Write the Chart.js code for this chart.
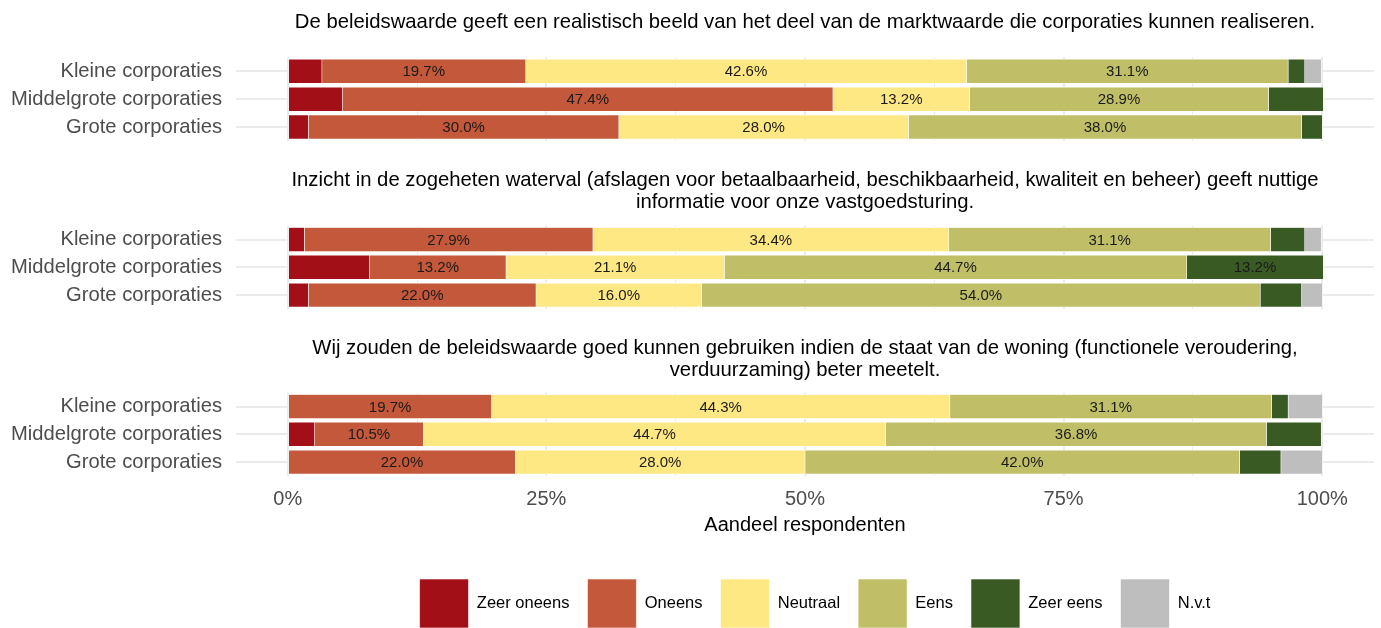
<!DOCTYPE html>
<html><head><meta charset="utf-8">
<script src="https://cdn.jsdelivr.net/npm/chart.js@4.4.1/dist/chart.umd.min.js"></script>
<style>
html,body{margin:0;padding:0;background:#fff;overflow:hidden;width:1381px;height:628px;position:relative;}
.p{position:absolute;left:0;width:1610px;}
</style></head><body>
<div class="p" style="top:0;height:141px"><canvas id="c1"></canvas></div>
<div class="p" style="top:141px;height:168px"><canvas id="c2"></canvas></div>
<div class="p" style="top:309px;height:329px"><canvas id="c3"></canvas></div>
<script>
// ---- data ----
const categories = ['Kleine corporaties', 'Middelgrote corporaties', 'Grote corporaties'];
const responses = ['Zeer oneens', 'Oneens', 'Neutraal', 'Eens', 'Zeer eens', 'N.v.t'];
const xTickValues = [0, 12.5, 25, 37.5, 50, 62.5, 75, 87.5, 100];
const axisTitle = 'Aandeel respondenten';

const title1 = 'De beleidswaarde geeft een realistisch beeld van het deel van de marktwaarde die corporaties kunnen realiseren.';
const title2 = ['Inzicht in de zogeheten waterval (afslagen voor betaalbaarheid, beschikbaarheid, kwaliteit en beheer) geeft nuttige', 'informatie voor onze vastgoedsturing.'];
const title3 = ['Wij zouden de beleidswaarde goed kunnen gebruiken indien de staat van de woning (functionele veroudering,', 'verduurzaming) beter meetelt.'];

// values per response, order: Kleine, Middelgrote, Grote (percent)
const zeerOneens1 = [3.3, 5.3, 2.0];
const oneens1     = [19.7, 47.4, 30.0];
const neutraal1   = [42.6, 13.2, 28.0];
const eens1       = [31.1, 28.9, 38.0];
const zeerEens1   = [1.6, 5.3, 2.0];
const nvt1        = [1.6, 0, 0];

const zeerOneens2 = [1.6, 7.9, 2.0];
const oneens2     = [27.9, 13.2, 22.0];
const neutraal2   = [34.4, 21.1, 16.0];
const eens2       = [31.1, 44.7, 54.0];
const zeerEens2   = [3.3, 13.2, 4.0];
const nvt2        = [1.6, 0, 2.0];

const zeerOneens3 = [0, 2.6, 0];
const oneens3     = [19.7, 10.5, 22.0];
const neutraal3   = [44.3, 44.7, 28.0];
const eens3       = [31.1, 36.8, 42.0];
const zeerEens3   = [1.6, 5.3, 4.0];
const nvt3        = [3.3, 0, 4.0];

// ---- styles ----
const colors = ['#A30F16', '#C4583B', '#FEE883', '#C0BF68', '#3A5A24', '#BEBEBE'];
const FONT = "'Liberation Sans', Arial, Helvetica, sans-serif";
Chart.defaults.font.family = FONT;

const segLabels = {
  id: 'segLabels',
  afterDatasetsDraw(chart) {
    const ctx = chart.ctx;
    ctx.save();
    ctx.font = '15px ' + FONT;
    ctx.fillStyle = '#1a1a1a';
    ctx.textAlign = 'center';
    ctx.textBaseline = 'middle';
    chart.data.datasets.forEach((ds, i) => {
      const meta = chart.getDatasetMeta(i);
      meta.data.forEach((bar, j) => {
        const v = ds.data[j];
        if (v >= 10) {
          const p = bar.getProps(['x', 'y', 'base'], true);
          ctx.fillText(v.toFixed(1) + '%', (p.x + p.base) / 2, p.y + 1);
        }
      });
    });
    ctx.restore();
  }
};

// nudge the legend a little to the right, as in the original layout
const legendShift = {
  id: 'legendShift',
  afterLayout(chart) {
    if (chart.legend && chart.options.plugins.legend.display) {
      chart.legend.left += 10;
      chart.legend.right += 10;
    }
  }
};

const SIDE = 236; // width of label column left (mirrored by an empty column right)

function makeChart(id, title, series, o) {
  const datasets = series.map((arr, i) => ({
    label: responses[i],
    data: arr,
    backgroundColor: colors[i],
    borderColor: '#ffffff',
    borderWidth: 0.6,
    borderSkipped: false,
    barThickness: 24
  }));
  return new Chart(document.getElementById(id), {
    type: 'bar',
    data: { labels: categories, datasets },
    plugins: [segLabels, legendShift],
    options: {
      indexAxis: 'y',
      animation: false,
      responsive: true,
      maintainAspectRatio: false,
      layout: { padding: 0 },
      plugins: {
        legend: {
          display: o.legend,
          position: 'bottom',
          labels: { boxWidth: 49, boxHeight: 49, padding: 18, color: '#000', font: { size: 16.5 } }
        },
        title: {
          display: true, text: title, color: '#000',
          font: { size: 20.3, weight: 'normal', lineHeight: 1.1 },
          padding: { top: o.pt, bottom: o.pb }
        },
        tooltip: { enabled: false }
      },
      scales: {
        x: {
          type: 'linear', stacked: true, min: -5, max: 105,
          afterBuildTicks: s => { s.ticks = xTickValues.map(v => ({ value: v })); },
          afterFit: s => { s.paddingLeft = 0; s.paddingRight = 0; },
          grid: { color: '#EBEBEB', lineWidth: c => (c.tick && c.tick.value % 25 === 0 ? 2 : 1), drawTicks: false },
          border: { display: false },
          ticks: {
            display: o.xaxis, padding: 11, autoSkip: false, maxRotation: 0, minRotation: 0,
            color: '#4D4D4D', font: { size: 20 },
            callback: v => (v % 25 === 0 ? v + '%' : '')
          },
          title: {
            display: o.xaxis, text: axisTitle, color: '#000', font: { size: 20 },
            padding: { top: -9, bottom: 24 }
          }
        },
        y: {
          type: 'category', stacked: true, offset: true, position: 'left',
          afterFit: s => { s.width = SIDE; s.paddingTop = 0; s.paddingBottom = 0; },
          grid: { color: '#EBEBEB', lineWidth: 2, drawTicks: false, offset: false },
          border: { display: false },
          ticks: { padding: 14, color: '#4D4D4D', font: { size: 20.2 } }
        },
        yRight: {
          type: 'linear', axis: 'y', position: 'right', display: true,
          afterFit: s => { s.width = SIDE; s.paddingTop = 0; s.paddingBottom = 0; },
          grid: { display: false, drawTicks: false },
          border: { display: false },
          ticks: { display: false }
        }
      }
    }
  });
}

makeChart('c1', title1, [zeerOneens1, oneens1, neutraal1, eens1, zeerEens1, nvt1], { legend: false, xaxis: false, pt: 11, pb: 24 });
makeChart('c2', title2, [zeerOneens2, oneens2, neutraal2, eens2, zeerEens2, nvt2], { legend: false, xaxis: false, pt: 28, pb: 12 });
makeChart('c3', title3, [zeerOneens3, oneens3, neutraal3, eens3, zeerEens3, nvt3], { legend: true, xaxis: true, pt: 28, pb: 11 });
</script>
</body></html>
